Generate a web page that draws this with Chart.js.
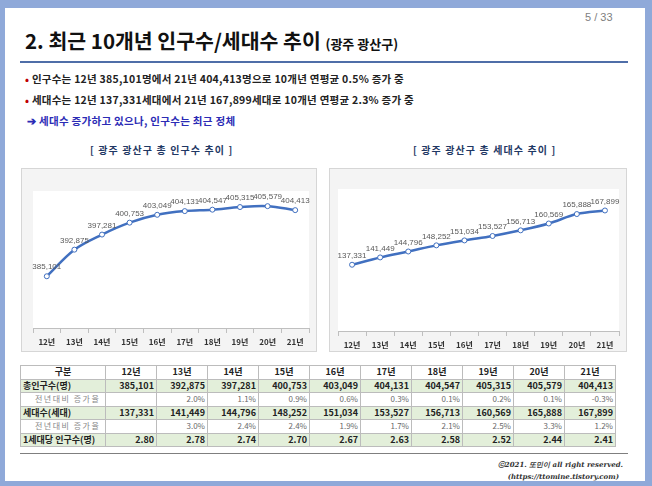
<!DOCTYPE html>
<html>
<head>
<meta charset="utf-8">
<script src="https://cdn.jsdelivr.net/npm/chart.js@4"></script>
<style>
  body { margin: 0; background: #8fa9d9; font-family: "Noto Sans CJK KR", sans-serif; }
  #slide { position: absolute; left: 5px; top: 8px; width: 640px; height: 473px; background: #fff; }
  .abs { position: absolute; white-space: nowrap; }
  #title { left: 20px; top: 17px; font-size: 20.5px; font-weight: 600; color: #111; }
  #title small { font-size: 13px; font-weight: bold; }
  #page { left: 580px; top: 3px; font-size: 11px; color: #7f7f7f; font-family: "Liberation Sans"; }
  #rule { left: 15px; top: 53px; width: 608px; height: 2px; background: #4f6ea8; }
  .bullet { left: 20px; font-size: 10.5px; font-weight: bold; color: #222; letter-spacing: 0.25px; }
  .bullet b { color: #c00000; font-size: 10px; }
  #note { left: 22px; top: 105px; font-size: 10.5px; font-weight: bold; color: #2b2bb5; letter-spacing: 0.3px; }
  .ctitle { top: 134px; font-size: 10px; font-weight: bold; color: #1f3864; letter-spacing: 1.1px; }
  .box { position: absolute; background: #f4f4f4; border: 1px solid #d6d6d6; box-sizing: border-box; }
  table { position: absolute; left: 15px; top: 357px; border-collapse: collapse; font-size: 9px; table-layout: fixed; }
  td { border: 1px solid #bcbcbc; height: 12.5px; padding: 0 2px; font-weight: bold; color: #222; text-align: right; line-height: 12px; }
  td.lab { text-align: left; }
  tr.hd td { text-align: center; background: #fff; }
  tr.g td { background: #e3efda; }
  tr.r td { color: #6a6a6a; font-weight: normal; font-size: 8px; }
  tr.r td.lab { padding-left: 14px; letter-spacing: 1.5px; color: #888; }
  #bottom { left: 15px; top: 445px; width: 608px; height: 1px; background: #7f7f7f; }
  .foot { font-family: "DejaVu Serif"; font-style: italic; font-weight: bold; font-size: 7px; color: #333; }
</style>
</head>
<body>
<div id="slide">
  <div id="page" class="abs">5 / 33</div>
  <div id="title" class="abs">2. 최근 10개년 인구수/세대수 추이 <small>(광주 광산구)</small></div>
  <div id="rule" class="abs"></div>
  <div class="abs bullet" style="top:63px"><b>•</b> 인구수는 12년 385,101명에서 21년 404,413명으로 10개년 연평균 0.5% 증가 중</div>
  <div class="abs bullet" style="top:84px"><b>•</b> 세대수는 12년 137,331세대에서 21년 167,899세대로 10개년 연평균 2.3% 증가 중</div>
  <div id="note" class="abs">➔ 세대수 증가하고 있으나, 인구수는 최근 정체</div>
  <div class="abs ctitle" style="left:85px">[ 광주 광산구 총 인구수 추이 ]</div>
  <div class="abs ctitle" style="left:408px">[ 광주 광산구 총 세대수 추이 ]</div>
  <div class="box" style="left:16px; top:160px; width:296px; height:184px;"><canvas id="popChart"></canvas></div>
  <div class="box" style="left:324px; top:160px; width:298px; height:184px;"><canvas id="hhChart"></canvas></div>
  <table id="tbl"></table>
  <div id="bottom" class="abs"></div>
  <div class="abs foot" style="right:22px; top:452px">ⓒ2021. 또민이 all right reserved.</div>
  <div class="abs foot" style="right:26px; top:464px">(https://ttomine.tistory.com)</div>
</div>
<script>
  const years = ["12년", "13년", "14년", "15년", "16년", "17년", "18년", "19년", "20년", "21년"];
  const population = [385101, 392875, 397281, 400753, 403049, 404131, 404547, 405315, 405579, 404413];
  const households = [137331, 141449, 144796, 148252, 151034, 153527, 156713, 160569, 165888, 167899];
  const popGrowth = [null, 2.0, 1.1, 0.9, 0.6, 0.3, 0.1, 0.2, 0.1, -0.3];
  const hhGrowth = [null, 3.0, 2.4, 2.4, 1.9, 1.7, 2.1, 2.5, 3.3, 1.2];
  const perHousehold = [2.80, 2.78, 2.74, 2.70, 2.67, 2.63, 2.58, 2.52, 2.44, 2.41];

  // white plot area inside the grey box
  const plotBg = {
    id: "plotBg",
    beforeDraw(chart) {
      const { ctx, chartArea: a } = chart;
      ctx.save();
      ctx.fillStyle = "#ffffff";
      ctx.fillRect(a.left, a.top, a.width, a.height);
      ctx.restore();
    },
  };

  // value labels above points
  const pointLabels = {
    id: "pointLabels",
    afterDatasetsDraw(chart) {
      const ctx = chart.ctx;
      const values = chart.data.datasets[0].data;
      ctx.save();
      ctx.font = "8px 'Liberation Sans'";
      ctx.fillStyle = "#595959";
      ctx.textAlign = "center";
      ctx.textBaseline = "bottom";
      chart.getDatasetMeta(0).data.forEach((pt, i) => {
        ctx.fillText(values[i].toLocaleString("en-US"), pt.x, pt.y - 5);
      });
      ctx.restore();
    },
  };

  function lineChart(id, values, min, max, pad, axisHeight) {
    new Chart(document.getElementById(id), {
      type: "line",
      data: {
        labels: years,
        datasets: [
          {
            data: values,
            borderColor: "#4170c0",
            borderWidth: 2.5,
            tension: 0.35,
            pointRadius: 2.5,
            pointBorderWidth: 1,
            pointBackgroundColor: "#ffffff",
            pointBorderColor: "#4170c0",
          },
        ],
      },
      options: {
        responsive: true,
        maintainAspectRatio: false,
        animation: false,
        layout: { padding: pad },
        plugins: { legend: { display: false }, tooltip: { enabled: false } },
        scales: {
          x: {
            offset: true,
            afterFit: (s) => { s.height = axisHeight; },
            border: { color: "#bfbfbf" },
            grid: { offset: true, drawOnChartArea: false, tickLength: 5, color: "#bfbfbf" },
            ticks: { color: "#333", padding: 4, font: { size: 8, weight: "bold", family: "Noto Sans CJK KR" } },
          },
          y: { display: false, min: min, max: max },
        },
      },
      plugins: [plotBg, pointLabels],
    });
  }

  lineChart("popChart", population, 370000, 410000, { left: 11, right: 7, top: 22, bottom: 0 }, 23);
  lineChart("hhChart", households, 100000, 180000, { left: 8, right: 7, top: 20, bottom: 0 }, 20);

  // table
  const fmt = (v) => v.toLocaleString("en-US");
  const pct = (v) => (v === null ? "" : v.toFixed(1) + "%");
  const rows = [
    ["hd", "구분", years],
    ["g", "총인구수(명)", population.map(fmt)],
    ["r", "전년대비 증가율", popGrowth.map(pct)],
    ["g", "세대수(세대)", households.map(fmt)],
    ["r", "전년대비 증가율", hhGrowth.map(pct)],
    ["g", "1세대당 인구수(명)", perHousehold.map((v) => v.toFixed(2))],
  ];
  let html = '<colgroup><col style="width:85px">' + years.map(() => '<col style="width:51px">').join("") + "</colgroup>";
  rows.forEach(([cls, label, cells]) => {
    html += '<tr class="' + cls + '"><td class="lab"' + (cls === "hd" ? ' style="text-align:center"' : "") + ">" + label + "</td>";
    cells.forEach((c) => { html += "<td>" + c + "</td>"; });
    html += "</tr>";
  });
  document.getElementById("tbl").innerHTML = html;
</script>
</body>
</html>
